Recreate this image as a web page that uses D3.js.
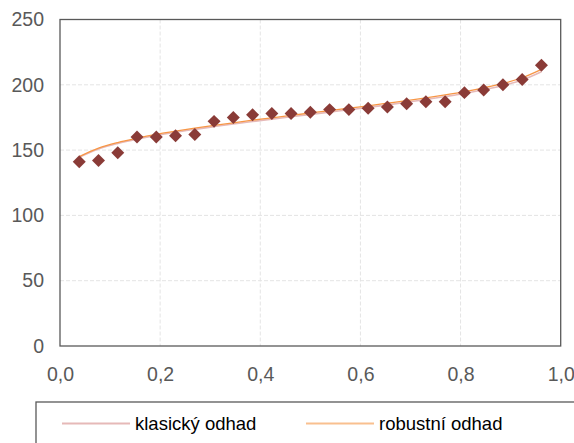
<!DOCTYPE html>
<html>
<head>
<meta charset="utf-8">
<script src="https://cdn.jsdelivr.net/npm/d3@7"></script>
<style>
  body { margin: 0; background: #fff; }
  svg { display: block; }
</style>
</head>
<body>
<svg id="chart" width="574" height="443"></svg>
<script>
// ---- data ----
const pointX = [1,2,3,4,5,6,7,8,9,10,11,12,13,14,15,16,17,18,19,20,21,22,23,24,25].map(i => i / 26);
const observed = [141,142,148,160,160,161,162,172,175,177,178,178,179,181,181,182,183,185.5,187,187,194,196,200,204,215];
const classicFit = [144.6,150.9,155.1,158.4,161.2,163.7,165.9,168.0,170.0,171.9,173.7,175.5,177.3,179.1,180.9,182.7,184.6,186.6,188.7,191.0,193.4,196.2,199.5,203.7,210.0];
const robustFit  = [145.0,151.5,155.8,159.1,162.0,164.5,166.8,168.9,170.9,172.9,174.7,176.6,178.4,180.2,182.1,183.9,185.9,187.9,190.0,192.3,194.8,197.7,201.0,205.4,211.8];
const xTicks = [0, 0.2, 0.4, 0.6, 0.8, 1.0];
const yTicks = [0, 50, 100, 150, 200, 250];
const legendLabels = ["klasický odhad", "robustní odhad"];

// ---- layout ----
const svg = d3.select("#chart");
const pL = 60, pR = 560.7, pT = 19.5, pB = 346;
const x = d3.scaleLinear().domain([0, 1]).range([pL, pR]);
const y = d3.scaleLinear().domain([0, 250]).range([pB, pT]);
const fontFam = "'Liberation Sans', Arial, sans-serif";

// gridlines
const grid = svg.append("g");
grid.selectAll("line.gy").data(yTicks.slice(1, -1)).join("line")
  .attr("x1", pL).attr("x2", pR)
  .attr("y1", d => y(d)).attr("y2", d => y(d))
  .attr("stroke", "#e4e4e4").attr("stroke-width", 1).attr("stroke-dasharray", "4,2");
grid.selectAll("line.gx").data(xTicks.slice(1, -1)).join("line")
  .attr("y1", pT).attr("y2", pB)
  .attr("x1", d => x(d)).attr("x2", d => x(d))
  .attr("stroke", "#e4e4e4").attr("stroke-width", 1).attr("stroke-dasharray", "4,2");

// axes (labels only, via d3 axis)
const yAxis = svg.append("g").attr("transform", `translate(${pL},0)`)
  .call(d3.axisLeft(y).tickValues(yTicks).tickSize(0).tickPadding(16).tickFormat(d3.format("d")));
const xAxis = svg.append("g").attr("transform", `translate(0,${pB})`)
  .call(d3.axisBottom(x).tickValues(xTicks).tickSize(0).tickPadding(21).tickFormat(d => d.toFixed(1).replace(".", ",")));
[yAxis, xAxis].forEach(a => {
  a.select(".domain").remove();
  a.selectAll("text").attr("fill", "#595959").style("font-family", fontFam).style("font-size", "19.5px");
});

// plot frame
svg.append("rect").attr("x", pL).attr("y", pT)
  .attr("width", pR - pL).attr("height", pB - pT)
  .attr("fill", "none").attr("stroke", "#595959").attr("stroke-width", 1.3);

// fitted lines
const lineGen = d3.line().x(d => x(d[0])).y(d => y(d[1])).curve(d3.curveCatmullRom);
svg.append("path").datum(pointX.map((px, i) => [px, classicFit[i]]))
  .attr("d", lineGen).attr("fill", "none").attr("stroke", "#e6b9b8").attr("stroke-width", 1.6);
svg.append("path").datum(pointX.map((px, i) => [px, robustFit[i]]))
  .attr("d", lineGen).attr("fill", "none").attr("stroke", "#f79646").attr("stroke-width", 1.3);

// observed points (diamonds)
svg.append("g").selectAll("path").data(pointX.map((px, i) => [px, observed[i]])).join("path")
  .attr("d", d3.symbol().type(d3.symbolSquare).size(84)())
  .attr("transform", d => `translate(${x(d[0])},${y(d[1])}) rotate(45)`)
  .attr("fill", "#8a3b37");

// legend
const lg = svg.append("g");
lg.append("rect").attr("x", 36).attr("y", 402).attr("width", 600).attr("height", 80)
  .attr("fill", "none").attr("stroke", "#595959").attr("stroke-width", 1.3);
const legendColors = ["#e6b9b8", "#f9c08f"];
const legendX = [62, 306];
legendLabels.forEach((lab, i) => {
  lg.append("line").attr("x1", legendX[i]).attr("x2", legendX[i] + 68)
    .attr("y1", 423.5).attr("y2", 423.5).attr("stroke", legendColors[i]).attr("stroke-width", 2);
  lg.append("text").attr("x", legendX[i] + 73).attr("y", 430)
    .text(lab).attr("fill", "#000").style("font-family", fontFam).style("font-size", "18.5px");
});
</script>
</body>
</html>
